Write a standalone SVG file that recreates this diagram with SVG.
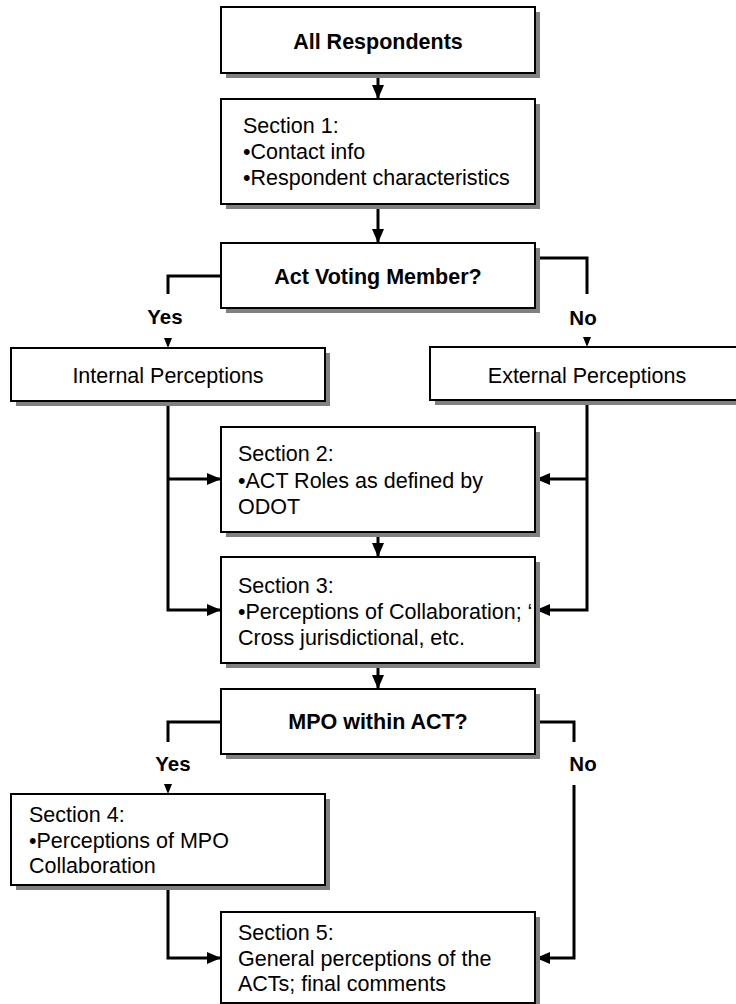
<svg xmlns="http://www.w3.org/2000/svg" width="736" height="1004" viewBox="0 0 736 1004">
<defs>
<style>
.box{fill:#fff;stroke:#000;stroke-width:2}
.sh{fill:#808080}
.t{font-family:"Liberation Sans",Arial,sans-serif;font-size:21.5px;fill:#000}
.b{font-weight:bold}
.m{text-anchor:middle}
.c{fill:none;stroke:#000;stroke-width:3}
.ah{fill:#000}
</style>
<marker id="big" markerUnits="userSpaceOnUse" markerWidth="14" markerHeight="12" refX="14" refY="6" orient="auto" viewBox="0 0 14 12">
<path d="M0,0 L14,6 L0,12 z" fill="#000"/>
</marker>
</defs>
<rect width="736" height="1004" fill="#fff"/>

<g id="connectors">
<path class="c" d="M378,73 V99" marker-end="url(#big)"/>
<path class="c" d="M378,204 V243" marker-end="url(#big)"/>
<path class="c" d="M221,276 H168 V294"/>
<path class="c" d="M535,258 H587 V294"/>
<polygon class="ah" points="164,338 172,338 168,348"/>
<polygon class="ah" points="583,337 591,337 587,347"/>
<path class="c" d="M168,401 V610 H221" marker-end="url(#big)"/>
<path class="c" d="M168,479 H221" marker-end="url(#big)"/>
<path class="c" d="M587,401 V610 H536" marker-end="url(#big)"/>
<path class="c" d="M587,479 H536" marker-end="url(#big)"/>
<path class="c" d="M378,532 V557" marker-end="url(#big)"/>
<path class="c" d="M378,663 V689" marker-end="url(#big)"/>
<path class="c" d="M221,722 H168 V742"/>
<path class="c" d="M535,722 H574 V742"/>
<polygon class="ah" points="164,784 172,784 168,794"/>
<path class="c" d="M574,785 V958 H536" marker-end="url(#big)"/>
<path class="c" d="M168,885 V958 H221" marker-end="url(#big)"/>
</g>

<g id="all-respondents">
<rect class="sh" x="226" y="12" width="314" height="66"/>
<rect class="box" x="221" y="7" width="314" height="66"/>
<text class="t b m" x="378" y="49">All Respondents</text>
</g>

<g id="section1">
<rect class="sh" x="226" y="104" width="314" height="105"/>
<rect class="box" x="221" y="99" width="314" height="105"/>
<text class="t" x="243" y="133">Section 1:</text>
<text class="t" x="243" y="159">•Contact info</text>
<text class="t" x="243" y="185">•Respondent characteristics</text>
</g>

<g id="act-voting">
<rect class="sh" x="226" y="248" width="314" height="65"/>
<rect class="box" x="221" y="243" width="314" height="65"/>
<text class="t b m" x="378" y="284">Act Voting Member?</text>
</g>

<g id="labels1">
<text class="t b m" x="165" y="324" style="font-size:20.5px">Yes</text>
<text class="t b m" x="583" y="325" style="font-size:20.5px">No</text>
</g>

<g id="internal">
<rect class="sh" x="16" y="353" width="314" height="53"/>
<rect class="box" x="11" y="348" width="314" height="53"/>
<text class="t m" x="168" y="383">Internal Perceptions</text>
</g>

<g id="external">
<rect class="sh" x="435" y="352" width="320" height="53"/>
<rect class="box" x="430" y="347" width="320" height="53"/>
<text class="t m" x="587" y="383">External Perceptions</text>
</g>

<g id="section2">
<rect class="sh" x="226" y="432" width="314" height="105"/>
<rect class="box" x="221" y="427" width="314" height="105"/>
<text class="t" x="238" y="461">Section 2:</text>
<text class="t" x="238" y="487.5">•ACT Roles as defined by</text>
<text class="t" x="238" y="513.5">ODOT</text>
</g>

<g id="section3">
<rect class="sh" x="226" y="562" width="314" height="106"/>
<rect class="box" x="221" y="557" width="314" height="106"/>
<text class="t" x="238" y="592.5">Section 3:</text>
<text class="t" x="238" y="618.5">•Perceptions of Collaboration; ‘</text>
<text class="t" x="238" y="644.5">Cross jurisdictional, etc.</text>
</g>

<g id="mpo">
<rect class="sh" x="226" y="694" width="314" height="65"/>
<rect class="box" x="221" y="689" width="314" height="65"/>
<text class="t b m" x="378" y="729">MPO within ACT?</text>
</g>

<g id="labels2">
<text class="t b m" x="173" y="771" style="font-size:20.5px">Yes</text>
<text class="t b m" x="583" y="771" style="font-size:20.5px">No</text>
</g>

<g id="section4">
<rect class="sh" x="16" y="799" width="314" height="91"/>
<rect class="box" x="11" y="794" width="314" height="91"/>
<text class="t" x="29" y="822">Section 4:</text>
<text class="t" x="29" y="847.5">•Perceptions of MPO</text>
<text class="t" x="29" y="873">Collaboration</text>
</g>

<g id="section5">
<rect class="sh" x="226" y="917" width="314" height="91"/>
<rect class="box" x="221" y="912" width="314" height="91"/>
<text class="t" x="238" y="940">Section 5:</text>
<text class="t" x="238" y="966">General perceptions of the</text>
<text class="t" x="238" y="991">ACTs; final comments</text>
</g>
</svg>
